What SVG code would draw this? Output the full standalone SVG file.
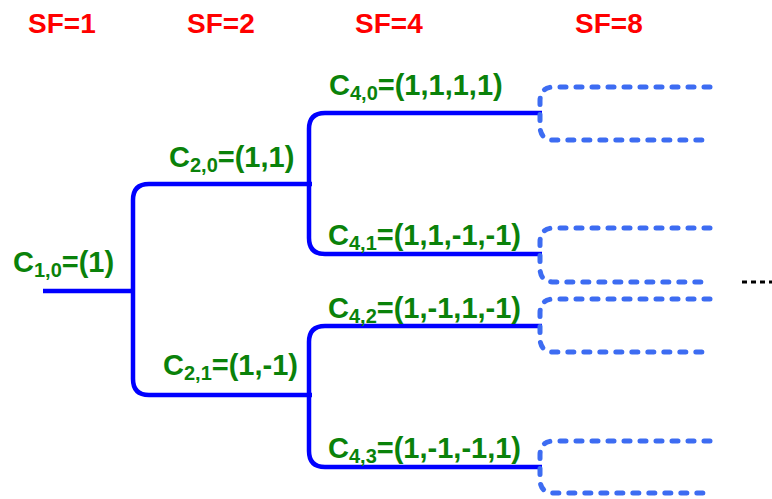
<svg xmlns="http://www.w3.org/2000/svg" width="772" height="499" viewBox="0 0 772 499">
  <style>
    .sf { font-family: "Liberation Sans", Arial, sans-serif; font-weight: bold; font-size: 28px; fill: #ff0000; }
    .code { font-family: "Liberation Sans", Arial, sans-serif; font-weight: bold; font-size: 29px; fill: #0a820a; }
    .sub { font-size: 20px; }
    .tree { fill: none; stroke: #0000ff; stroke-width: 4.5; stroke-linejoin: round; }
    .next { fill: none; stroke: #3d6cf2; stroke-width: 5; stroke-linecap: round; stroke-dasharray: 6 10; }
    .more { fill: none; stroke: #000000; stroke-width: 3; stroke-dasharray: 5 4; }
  </style>

  <!-- spreading factor headings -->
  <g id="headings">
    <text class="sf" x="28" y="33">SF=1</text>
    <text class="sf" x="187" y="33">SF=2</text>
    <text class="sf" x="355" y="33">SF=4</text>
    <text class="sf" x="575" y="33">SF=8</text>
  </g>

  <!-- connectors of the code tree -->
  <g id="connectors">
    <!-- root to SF=2 -->
    <path class="tree" d="M43,291 L133,291"/>
    <path class="tree" d="M312,184 L149,184 Q133,184 133,200 L133,379 Q133,395 149,395 L312,395"/>
    <!-- SF=2 to SF=4 -->
    <path class="tree" d="M542,113 L325,113 Q309,113 309,129 L309,238 Q309,254 325,254 L542,254"/>
    <path class="tree" d="M542,326 L325,326 Q309,326 309,342 L309,451 Q309,467 325,467 L542,467"/>
    <!-- SF=4 to SF=8 (further branches) -->
    <path class="next" d="M710,87 L554,87 Q540,87 540,101 L540,126 Q540,140 554,140 L708,140"/>
    <path class="next" d="M710,228 L554,228 Q540,228 540,242 L540,268 Q540,282 554,282 L708,282"/>
    <path class="next" d="M710,299 L554,299 Q540,299 540,313 L540,338 Q540,352 554,352 L708,352"/>
    <path class="next" d="M710,441 L554,441 Q540,441 540,455 L540,479 Q540,493 554,493 L708,493"/>
    <path class="more" d="M742,282 L772,282"/>
  </g>

  <!-- code nodes -->
  <g id="c10">
    <text class="code" x="13" y="272">C<tspan class="sub" dy="5">1,0</tspan><tspan dy="-5">=(1)</tspan></text>
  </g>
  <g id="c20">
    <text class="code" x="169" y="167">C<tspan class="sub" dy="5">2,0</tspan><tspan dy="-5">=(1,1)</tspan></text>
  </g>
  <g id="c21">
    <text class="code" x="163" y="375">C<tspan class="sub" dy="5">2,1</tspan><tspan dy="-5">=(1,-1)</tspan></text>
  </g>
  <g id="c40">
    <text class="code" x="329" y="95">C<tspan class="sub" dy="5">4,0</tspan><tspan dy="-5">=(1,1,1,1)</tspan></text>
  </g>
  <g id="c41">
    <text class="code" x="328" y="245">C<tspan class="sub" dy="5">4,1</tspan><tspan dy="-5">=(1,1,-1,-1)</tspan></text>
  </g>
  <g id="c42">
    <text class="code" x="328" y="318">C<tspan class="sub" dy="5">4,2</tspan><tspan dy="-5">=(1,-1,1,-1)</tspan></text>
  </g>
  <g id="c43">
    <text class="code" x="328" y="458">C<tspan class="sub" dy="5">4,3</tspan><tspan dy="-5">=(1,-1,-1,1)</tspan></text>
  </g>
</svg>
